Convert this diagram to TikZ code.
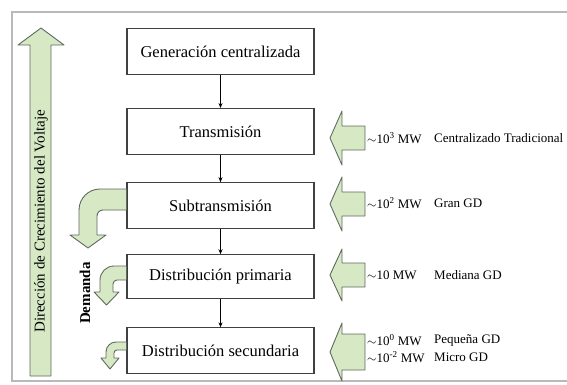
\documentclass[tikz,border=0pt]{standalone}
\usepackage{fontspec}
\setmainfont{Liberation Serif}
\usepackage{tikz}
\usetikzlibrary{arrows.meta,positioning}
\definecolor{gdfill}{RGB}{214,232,196}
\definecolor{gdline}{RGB}{95,105,95}
% block arrow pointing left: tip, shaft half-height, head half-height
\newcommand{\garrow}[3]{\draw[garr] #1 -- ++(12,#3) -- ++(0,#2-#3) -- ++(23,0) -- ++(0,-2*#2) -- ++(-23,0) -- ++(0,#2-#3) -- cycle;}

\begin{document}
\begin{tikzpicture}[
    x=1pt, y=1pt,
    level/.style={draw=black!75, line width=1.1pt, fill=white, minimum width=187pt, minimum height=46pt, inner sep=0pt, font=\fontsize{16.5}{18}\selectfont},
    arr/.style={-{Stealth[length=5pt,width=4pt]}, line width=0.8pt},
    garr/.style={fill=gdfill, draw=gdline, line width=0.9pt, line join=round},
    lbl/.style={anchor=west, inner sep=0pt, font=\fontsize{13}{14}\selectfont},
]
\useasboundingbox (0,0) rectangle (567,384);
\draw[gray!55, line width=2.5pt] (12,3) rectangle (580,372);

\node[level] (gen) at (220.5,332.5) {Generación centralizada};
\node[level, below=33pt of gen] (trans) {Transmisión};
\node[level, below=27pt of trans] (sub) {Subtransmisión};
\node[level, below=25pt of sub, minimum height=44pt] (dp) {Distribución primaria};
\node[level, below=28pt of dp] (ds) {Distribución secundaria};

\draw[arr] (gen) -- (trans);
\draw[arr] (trans) -- (sub);
\draw[arr] (sub) -- (dp);
\draw[arr] (dp) -- (ds);

% voltage direction
\draw[garr] (30,8) -- (30,339) -- (18,339) -- (41,356) -- (64,339) -- (51,339) -- (51,8) -- cycle;
\node[rotate=90, anchor=west, inner sep=0pt, font=\fontsize{15}{17}\selectfont] (volt) at (41,51) {Dirección de Crecimiento del Voltaje};
\node[rotate=90, font=\fontsize{15}{17}\selectfont\bfseries] (dem) at (85,91) {Demanda};

% demand arrows
\draw[garr] (sub.west |- 0,195) -- (100,195) arc[start angle=90, end angle=180, radius=21] -- (79,149) -- (70,149) -- (88,136) -- (106,149) -- (97,149) -- (97,168) arc[start angle=180, end angle=90, radius=6] -- (sub.west |- 0,174) -- cycle;
\draw[garr] (dp.west |- 0,118) -- (114,118) arc[start angle=90, end angle=180, radius=14] -- (100,92) -- (94,92) -- (106.5,79) -- (119,92) -- (113,92) -- (113,100) arc[start angle=180, end angle=90, radius=4] -- (dp.west |- 0,104) -- cycle;
\draw[garr] (ds.west |- 0,42) -- (116,42) arc[start angle=90, end angle=180, radius=10] -- (106,26) -- (101,26) -- (110,15) -- (119,26) -- (114,26) -- (114,31) arc[start angle=180, end angle=90, radius=3] -- (ds.west |- 0,34) -- cycle;

% generation injected
\garrow{(330,246)}{12}{27}
\garrow{(330,180)}{12}{27}
\garrow{(330,109)}{12}{26}
\garrow{(330,32)}{18}{29}

\node[lbl] (p1) at (367,246) {$\sim$10\textsuperscript{3} MW};
\node[lbl] (g1) at (434,246) {Centralizado Tradicional};
\node[lbl] (p2) at (367,181) {$\sim$10\textsuperscript{2} MW};
\node[lbl] (g2) at (434,181) {Gran GD};
\node[lbl] (p3) at (367,109) {$\sim$10 MW};
\node[lbl] (g3) at (434,109) {Mediana GD};
\node[lbl] (p4) at (367,44) {$\sim$10\textsuperscript{0} MW};
\node[lbl] (g4) at (434,44) {Pequeña GD};
\node[lbl] (p5) at (367,27) {$\sim$10\textsuperscript{-2} MW};
\node[lbl] (g5) at (434,27) {Micro GD};
\end{tikzpicture}
\end{document}
